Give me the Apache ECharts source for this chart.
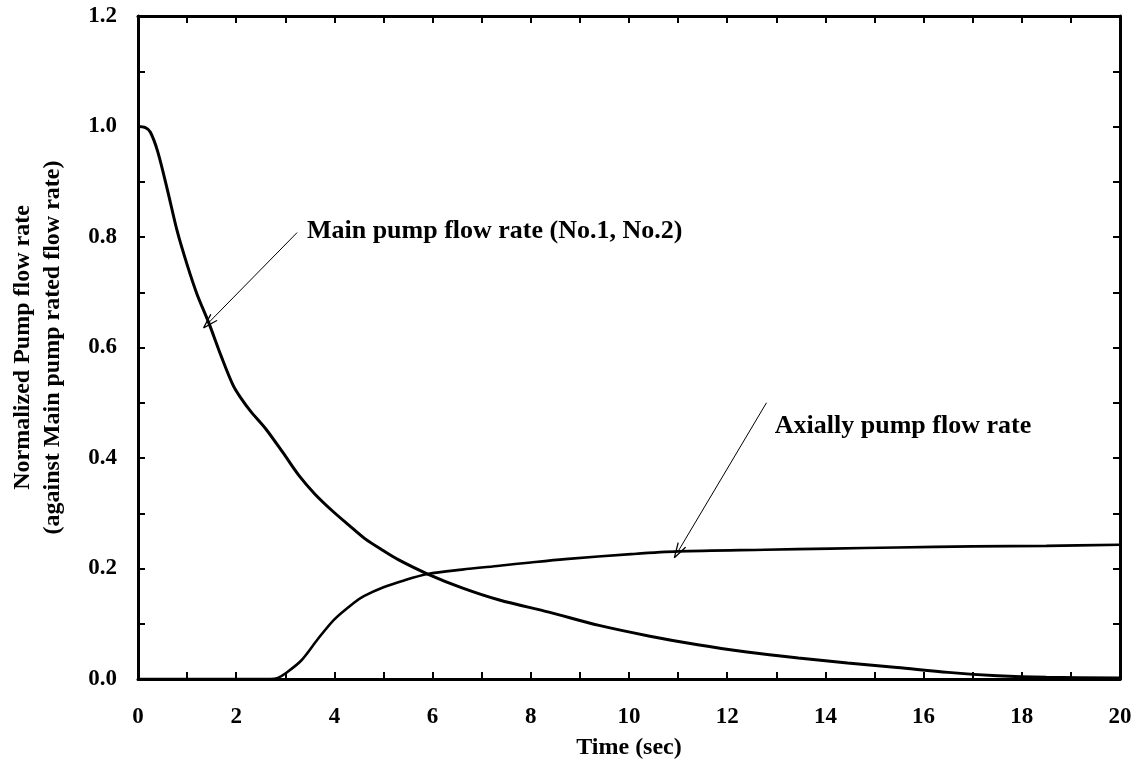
<!DOCTYPE html>
<html>
<head>
<meta charset="utf-8">
<script src="https://cdn.jsdelivr.net/npm/echarts@6/dist/echarts.min.js"></script>
<style>
html,body{margin:0;padding:0;background:#fff;}
#chart{width:1139px;height:777px;}
</style>
</head>
<body>
<div id="chart"></div>
<script>
// ---- Data ----
const xTickLabels = ['0', '2', '4', '6', '8', '10', '12', '14', '16', '18', '20'];
const yTickLabels = ['0.0', '0.2', '0.4', '0.6', '0.8', '1.0', '1.2'];

const mainTime = [0, 0.15, 0.25, 0.4, 0.6, 0.8, 1.0, 1.2, 1.44, 1.7, 1.93, 2.1, 2.3, 2.6, 2.95, 3.28, 3.6, 3.95, 4.3, 4.62, 5.0, 5.3, 5.9, 6.6, 7.36, 8.37, 9.39, 10.4, 11.4, 12.4, 13.45, 14.45, 15.46, 16.5, 17.5, 18.5, 20];
const mainFlow = [1.0, 0.998, 0.99, 0.955, 0.885, 0.81, 0.75, 0.697, 0.645, 0.583, 0.533, 0.508, 0.484, 0.453, 0.41, 0.368, 0.335, 0.305, 0.278, 0.254, 0.232, 0.216, 0.19, 0.165, 0.143, 0.121, 0.097, 0.078, 0.062, 0.049, 0.038, 0.029, 0.021, 0.012, 0.006, 0.003, 0.002];

const auxTime = [0, 1, 2, 2.7, 2.85, 3.0, 3.32, 3.66, 4.0, 4.4, 4.6, 5.0, 5.4, 5.9, 6.6, 7.36, 8.0, 8.7, 10.04, 11.0, 12.77, 14.1, 15.46, 17.0, 18.5, 20.0];
const auxFlow = [0, 0, 0, 0, 0.002, 0.01, 0.033, 0.072, 0.108, 0.138, 0.15, 0.166, 0.178, 0.19, 0.198, 0.205, 0.211, 0.217, 0.226, 0.231, 0.234, 0.236, 0.238, 0.24, 0.241, 0.243];

const mainLabel = 'Main pump flow rate (No.1, No.2)';
const auxLabel = 'Axially pump flow rate';
// annotation anchors in data units: [arrow start, arrow tip], label left-middle
const mainArrow = [[3.24, 0.808], [1.44, 0.645]];
const mainLabelAt = [3.44, 0.81];
const auxArrow = [[12.8, 0.50], [11.0, 0.231]];
const auxLabelAt = [12.97, 0.458];

const pairs = (xs, ys) => xs.map((x, i) => [x, ys[i]]);

const FONT = '"Liberation Serif", "DejaVu Serif", serif';
const tickLabel = {color: '#000', fontFamily: FONT, fontWeight: 'bold', fontSize: 23};
const axLine = {show: true, onZero: false, lineStyle: {color: '#000', width: 3}};
const axTick = {show: true, inside: true, length: 7, lineStyle: {color: '#000', width: 2}};
const axMinor = {show: true, splitNumber: 2, length: 7, lineStyle: {color: '#000', width: 2}};
const chevron = 'path://M44,0 L56,0 L100,100 L87,100 L50,16 L13,100 L0,100 Z';

function arrowLine(a) {
  return {
    silent: true, symbol: ['none', chevron], symbolSize: [10, 15],
    lineStyle: {color: '#000', width: 1, type: 'solid'},
    label: {show: false},
    emphasis: {disabled: true},
    data: [[{coord: a[0]}, {coord: a[1]}]]
  };
}

const chart = echarts.init(document.getElementById('chart'));
chart.setOption({
  backgroundColor: '#fff',
  animation: false,
  grid: {left: 135, right: 19, top: 16, bottom: 98, containLabel: false},
  xAxis: [{
    type: 'value', min: 0, max: 20, interval: 2,
    name: 'Time (sec)', nameLocation: 'middle', nameGap: 57,
    nameTextStyle: {color: '#000', fontFamily: FONT, fontWeight: 'bold', fontSize: 24},
    axisLine: axLine, axisTick: axTick, minorTick: axMinor,
    axisLabel: Object.assign({margin: 27, formatter: v => xTickLabels[Math.round(v / 2)]}, tickLabel),
    splitLine: {show: false}
  }, {
    type: 'value', min: 0, max: 20, interval: 2, position: 'top',
    axisLine: axLine, axisTick: axTick, minorTick: axMinor,
    axisLabel: {show: false}, splitLine: {show: false}
  }],
  yAxis: [{
    type: 'value', min: 0, max: 1.2, interval: 0.2,
    name: 'Normalized Pump flow rate\n(against Main pump rated flow rate)',
    nameLocation: 'middle', nameGap: 70, nameRotate: 90,
    nameTextStyle: {color: '#000', fontFamily: FONT, fontWeight: 'bold', fontSize: 24, lineHeight: 30},
    axisLine: axLine, axisTick: axTick, minorTick: axMinor,
    axisLabel: Object.assign({margin: 21, formatter: v => yTickLabels[Math.round(v / 0.2)]}, tickLabel),
    splitLine: {show: false}
  }, {
    type: 'value', min: 0, max: 1.2, interval: 0.2, position: 'right',
    axisLine: axLine, axisTick: axTick, minorTick: axMinor,
    axisLabel: {show: false}, splitLine: {show: false}
  }],
  series: [{
    name: mainLabel, type: 'line', smooth: 0.3, showSymbol: false,
    data: pairs(mainTime, mainFlow),
    lineStyle: {color: '#000', width: 3},
    markLine: arrowLine(mainArrow)
  }, {
    name: auxLabel, type: 'line', smooth: 0.3, showSymbol: false,
    data: pairs(auxTime, auxFlow),
    lineStyle: {color: '#000', width: 2.6},
    markLine: arrowLine(auxArrow)
  }]
});

function annot(text, at) {
  const p = chart.convertToPixel({gridIndex: 0}, at);
  return {
    type: 'text', x: p[0], y: p[1], silent: true,
    style: {text: text, fill: '#000', font: 'bold 26px ' + FONT, textAlign: 'left', textVerticalAlign: 'middle'}
  };
}
chart.setOption({graphic: [annot(mainLabel, mainLabelAt), annot(auxLabel, auxLabelAt)]});
</script>
</body>
</html>
